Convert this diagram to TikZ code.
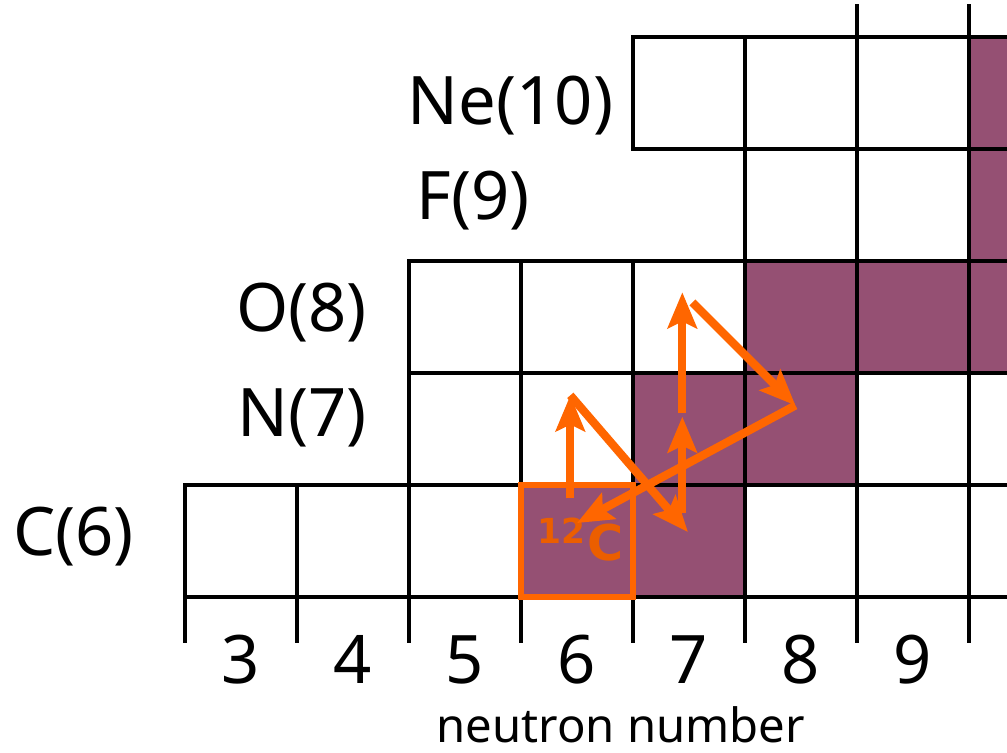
\documentclass[tikz,border=0pt]{standalone}
\usepackage{fontspec}
\setmainfont{Noto Sans}
\newfontfamily\isofont{DejaVu Sans}
\usetikzlibrary{arrows.meta}
\definecolor{cnopurple}{RGB}{149,80,115}
\definecolor{cnoorange}{RGB}{255,102,0}

\begin{document}
\begin{tikzpicture}[
  >={Stealth[length=3.2mm,width=2.6mm,inset=0.6mm]},
  grid/.style={line width=1.2pt},
  cell/.style={grid, fill=white},
  hot/.style={grid, fill=cnopurple},
  element/.style={font=\fontsize{17}{20}\selectfont, inner sep=0pt},
  flow/.style={->, cnoorange, line width=2.1pt}
]
\useasboundingbox (0.848,4.107) rectangle (9.839,10.830);
\clip (0.848,4.107) rectangle (9.839,10.830);

% Chart cells, neutron number / proton number
\foreach \n/\z in {3/6,4/6,5/6,8/6,9/6,10/6, 5/7,6/7,9/7,10/7,
                   5/8,6/8,7/8, 8/9,9/9, 7/10,8/10,9/10}{
  \draw[cell] (\n-0.5,\z-0.5) rectangle ++(1,1);
}
% Stable nuclei
\foreach \n/\z in {6/6,7/6,7/7,8/7,8/8,9/8,10/8,10/9,10/10}{
  \draw[hot] (\n-0.5,\z-0.5) rectangle ++(1,1);
}
% Start of the next row
\draw[grid] (8.5,10.5) -- (8.5,10.79);
\draw[grid] (9.5,10.5) -- (9.5,10.79);

% Neutron axis
\foreach \x in {2.5,3.5,...,9.5}{
  \draw[grid] (\x,5.5) -- (\x,5.09);
}
\foreach \n in {3,...,9}{
  \node[element] (num\n) at (\n,4.94) {\n};
}
\node[font=\fontsize{12}{14}\selectfont, anchor=base, inner sep=0pt] (xlabel) at (6.39,4.20) {neutron number};

% Element names
\node[element, anchor=east] (ne) at (6.33,9.89) {Ne(10)};
\node[element, anchor=west] (f)  at (4.56,9.04) {F(9)};
\node[element, anchor=east] (o)  at (4.13,8.04) {O(8)};
\node[element, anchor=east] (n)  at (4.13,7.10) {N(7)};
\node[element, anchor=east] (c)  at (2.05,6.04) {C(6)};

% Seed nucleus
\draw[cnoorange, line width=1.3pt] (5.5,5.5) rectangle (6.5,6.5);
\node[text=cnoorange!92!black, font=\isofont\bfseries\fontsize{12.5}{15}\selectfont, inner sep=0pt]
  (c12lbl) at (6.03,6.01) {\textsuperscript{12}C};

% Cycle
\coordinate (c12)  at (5.94,6.38);
\coordinate (n13)  at (5.94,7.30);
\coordinate (c13)  at (6.99,6.08);
\coordinate (c13b) at (6.94,6.25);
\coordinate (n14)  at (6.94,7.11);
\coordinate (n14b) at (6.94,7.14);
\coordinate (o15)  at (6.94,8.22);
\coordinate (o15b) at (7.03,8.13);
\coordinate (n15)  at (7.95,7.21);
\coordinate (c12a) at (6.00,6.16);
\draw[flow] (c12) -- (n13);
\draw[flow] (n13) -- (c13);
\draw[flow] (c13b) -- (n14);
\draw[flow] (n14b) -- (o15);
\draw[flow] (o15b) -- (n15);
\draw[flow] (n15) -- (c12a);
\end{tikzpicture}
\end{document}
